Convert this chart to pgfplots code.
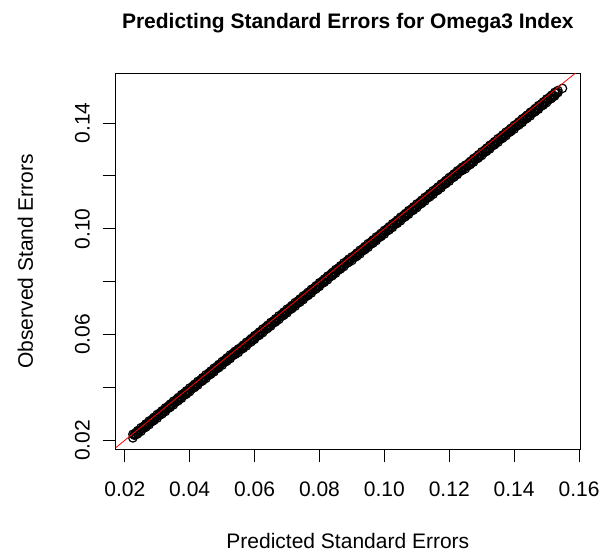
\documentclass[border=0pt]{standalone}
\usepackage{pgfplots}
\pgfplotsset{compat=1.18}
\usepackage{fontspec}
\setmainfont{Liberation Sans}
\pgfplotstableread{
x y1 y2
0.0225 0.0223 0.0209
0.0230 0.0219 0.0223
0.0235 0.0230 0.0222
0.0240 0.0225 0.0237
0.0245 0.0237 0.0235
0.0250 0.0248 0.0234
0.0255 0.0244 0.0248
0.0260 0.0255 0.0247
0.0265 0.0250 0.0262
0.0270 0.0262 0.0260
0.0275 0.0273 0.0259
0.0280 0.0269 0.0273
0.0285 0.0280 0.0272
0.0290 0.0275 0.0287
0.0295 0.0287 0.0285
0.0300 0.0298 0.0284
0.0305 0.0294 0.0298
0.0310 0.0305 0.0297
0.0315 0.0300 0.0312
0.0320 0.0312 0.0310
0.0325 0.0323 0.0309
0.0330 0.0319 0.0323
0.0335 0.0330 0.0322
0.0340 0.0325 0.0337
0.0345 0.0337 0.0335
0.0350 0.0348 0.0334
0.0355 0.0344 0.0348
0.0360 0.0355 0.0347
0.0365 0.0350 0.0362
0.0370 0.0362 0.0360
0.0375 0.0373 0.0359
0.0380 0.0369 0.0373
0.0385 0.0380 0.0372
0.0390 0.0375 0.0387
0.0395 0.0387 0.0385
0.0400 0.0398 0.0384
0.0405 0.0394 0.0398
0.0410 0.0405 0.0397
0.0415 0.0400 0.0412
0.0420 0.0412 0.0410
0.0425 0.0423 0.0409
0.0430 0.0419 0.0423
0.0435 0.0430 0.0422
0.0440 0.0425 0.0437
0.0445 0.0437 0.0435
0.0450 0.0448 0.0434
0.0455 0.0444 0.0448
0.0460 0.0455 0.0447
0.0465 0.0450 0.0462
0.0470 0.0462 0.0460
0.0475 0.0473 0.0459
0.0480 0.0469 0.0473
0.0485 0.0480 0.0472
0.0490 0.0475 0.0487
0.0495 0.0487 0.0485
0.0500 0.0498 0.0484
0.0505 0.0494 0.0498
0.0510 0.0505 0.0497
0.0515 0.0500 0.0512
0.0520 0.0512 0.0510
0.0525 0.0523 0.0509
0.0530 0.0519 0.0523
0.0535 0.0530 0.0522
0.0540 0.0525 0.0537
0.0545 0.0537 0.0535
0.0550 0.0546 0.0532
0.0555 0.0542 0.0546
0.0560 0.0553 0.0545
0.0565 0.0548 0.0560
0.0570 0.0560 0.0558
0.0575 0.0571 0.0557
0.0580 0.0567 0.0571
0.0585 0.0578 0.0570
0.0590 0.0573 0.0585
0.0595 0.0585 0.0583
0.0600 0.0596 0.0582
0.0605 0.0592 0.0596
0.0610 0.0603 0.0595
0.0615 0.0598 0.0610
0.0620 0.0610 0.0608
0.0625 0.0621 0.0607
0.0630 0.0617 0.0621
0.0635 0.0628 0.0620
0.0640 0.0623 0.0635
0.0645 0.0635 0.0633
0.0650 0.0646 0.0632
0.0655 0.0642 0.0646
0.0660 0.0653 0.0645
0.0665 0.0648 0.0660
0.0670 0.0660 0.0658
0.0675 0.0671 0.0657
0.0680 0.0667 0.0671
0.0685 0.0678 0.0670
0.0690 0.0673 0.0685
0.0695 0.0685 0.0683
0.0700 0.0696 0.0682
0.0705 0.0692 0.0696
0.0710 0.0703 0.0695
0.0715 0.0698 0.0710
0.0720 0.0710 0.0708
0.0725 0.0721 0.0707
0.0730 0.0717 0.0721
0.0735 0.0728 0.0720
0.0740 0.0723 0.0735
0.0745 0.0735 0.0733
0.0750 0.0746 0.0732
0.0755 0.0742 0.0746
0.0760 0.0753 0.0745
0.0765 0.0748 0.0760
0.0770 0.0760 0.0758
0.0775 0.0771 0.0757
0.0780 0.0767 0.0771
0.0785 0.0778 0.0770
0.0790 0.0773 0.0785
0.0795 0.0785 0.0783
0.0800 0.0796 0.0782
0.0805 0.0792 0.0796
0.0810 0.0803 0.0795
0.0815 0.0798 0.0810
0.0820 0.0810 0.0808
0.0825 0.0821 0.0807
0.0830 0.0817 0.0821
0.0835 0.0828 0.0820
0.0840 0.0823 0.0835
0.0845 0.0835 0.0833
0.0850 0.0846 0.0832
0.0855 0.0842 0.0846
0.0860 0.0853 0.0845
0.0865 0.0848 0.0860
0.0870 0.0860 0.0858
0.0875 0.0871 0.0857
0.0880 0.0867 0.0871
0.0885 0.0878 0.0870
0.0890 0.0873 0.0885
0.0895 0.0885 0.0883
0.0900 0.0894 0.0880
0.0905 0.0890 0.0894
0.0910 0.0901 0.0893
0.0915 0.0896 0.0908
0.0920 0.0908 0.0906
0.0925 0.0919 0.0905
0.0930 0.0915 0.0919
0.0935 0.0926 0.0918
0.0940 0.0921 0.0933
0.0945 0.0933 0.0931
0.0950 0.0944 0.0930
0.0955 0.0940 0.0944
0.0960 0.0951 0.0943
0.0965 0.0946 0.0958
0.0970 0.0958 0.0956
0.0975 0.0969 0.0955
0.0980 0.0965 0.0969
0.0985 0.0976 0.0968
0.0990 0.0971 0.0983
0.0995 0.0983 0.0981
0.1000 0.0994 0.0980
0.1005 0.0990 0.0994
0.1010 0.1001 0.0993
0.1015 0.0996 0.1008
0.1020 0.1008 0.1006
0.1025 0.1019 0.1005
0.1030 0.1015 0.1019
0.1035 0.1026 0.1018
0.1040 0.1021 0.1033
0.1045 0.1033 0.1031
0.1050 0.1044 0.1030
0.1055 0.1040 0.1044
0.1060 0.1051 0.1043
0.1065 0.1046 0.1058
0.1070 0.1058 0.1056
0.1075 0.1069 0.1055
0.1080 0.1065 0.1069
0.1085 0.1076 0.1068
0.1090 0.1071 0.1083
0.1095 0.1083 0.1081
0.1100 0.1094 0.1080
0.1105 0.1090 0.1094
0.1110 0.1101 0.1093
0.1115 0.1096 0.1108
0.1120 0.1108 0.1106
0.1125 0.1119 0.1105
0.1130 0.1115 0.1119
0.1135 0.1126 0.1118
0.1140 0.1121 0.1133
0.1145 0.1133 0.1131
0.1150 0.1144 0.1130
0.1155 0.1140 0.1144
0.1160 0.1151 0.1143
0.1165 0.1146 0.1158
0.1170 0.1158 0.1156
0.1175 0.1169 0.1155
0.1180 0.1165 0.1169
0.1185 0.1176 0.1168
0.1190 0.1171 0.1183
0.1195 0.1183 0.1181
0.1200 0.1194 0.1180
0.1205 0.1190 0.1194
0.1210 0.1201 0.1193
0.1215 0.1196 0.1208
0.1220 0.1208 0.1206
0.1225 0.1219 0.1205
0.1230 0.1215 0.1219
0.1235 0.1226 0.1218
0.1240 0.1221 0.1233
0.1245 0.1233 0.1231
0.1250 0.1241 0.1227
0.1255 0.1237 0.1241
0.1260 0.1248 0.1240
0.1265 0.1243 0.1255
0.1270 0.1255 0.1253
0.1275 0.1266 0.1252
0.1280 0.1262 0.1266
0.1285 0.1273 0.1265
0.1290 0.1268 0.1280
0.1295 0.1280 0.1278
0.1300 0.1291 0.1277
0.1305 0.1287 0.1291
0.1310 0.1298 0.1290
0.1315 0.1293 0.1305
0.1320 0.1305 0.1303
0.1325 0.1316 0.1302
0.1330 0.1312 0.1316
0.1335 0.1323 0.1315
0.1340 0.1318 0.1330
0.1345 0.1330 0.1328
0.1350 0.1341 0.1327
0.1355 0.1337 0.1341
0.1360 0.1348 0.1340
0.1365 0.1343 0.1355
0.1370 0.1355 0.1353
0.1375 0.1366 0.1352
0.1380 0.1362 0.1366
0.1385 0.1373 0.1365
0.1390 0.1368 0.1380
0.1395 0.1380 0.1378
0.1400 0.1391 0.1377
0.1405 0.1387 0.1391
0.1410 0.1398 0.1390
0.1415 0.1393 0.1405
0.1420 0.1405 0.1403
0.1425 0.1416 0.1402
0.1430 0.1412 0.1416
0.1435 0.1423 0.1415
0.1440 0.1418 0.1430
0.1445 0.1430 0.1428
0.1450 0.1441 0.1427
0.1455 0.1437 0.1441
0.1460 0.1448 0.1440
0.1465 0.1443 0.1455
0.1470 0.1455 0.1453
0.1475 0.1466 0.1452
0.1480 0.1462 0.1466
0.1485 0.1473 0.1465
0.1490 0.1468 0.1480
0.1495 0.1480 0.1478
0.1500 0.1491 0.1477
0.1505 0.1487 0.1491
0.1510 0.1498 0.1490
0.1515 0.1493 0.1505
0.1520 0.1505 0.1503
0.1525 0.1516 0.1502
0.1530 0.1512 0.1516
0.1535 0.1523 0.1515
0.1549 0.1531 nan
}\pts
\begin{document}
\begin{tikzpicture}
\begin{axis}[
  scale only axis,
  width=464.3pt, height=376pt,
  xmin=0.0172, xmax=0.1603, ymin=0.0166, ymax=0.1588,
  axis line style={line width=0.9pt, black},
  tick style={line width=0.9pt, black},
  major tick length=13pt,
  tick align=outside,
  xtick pos=bottom, ytick pos=left,
  xtick={0.02,0.04,0.06,0.08,0.10,0.12,0.14,0.16},
  xticklabels={0.02,0.04,0.06,0.08,0.10,0.12,0.14,0.16},
  ytick={0.02,0.04,0.06,0.08,0.10,0.12,0.14},
  yticklabels={0.02,,0.06,,0.10,,0.14},
  tick label style={font=\fontsize{21}{25}\selectfont, text=black},
  xticklabel style={anchor=base, yshift=-34.4pt},
  yticklabel style={xshift=-13pt, rotate=90, anchor=base},
  unbounded coords=discard,
  clip=true,
  clip mode=individual,
]
\addplot[only marks, mark=o, mark size=4.2pt, mark options={line width=1.2pt, black}] table[x=x, y=y1] {\pts};
\addplot[only marks, mark=o, mark size=4.2pt, mark options={line width=1.2pt, black}] table[x=x, y=y2] {\pts};
\addplot[red, line width=0.8pt] coordinates {(0.0150,0.0150) (0.1650,0.1650)};
\end{axis}
\node[anchor=base, font=\bfseries\fontsize{21}{25}\selectfont] at (232.15pt,420.3pt) {Predicting Standard Errors for Omega3 Index};
\node[anchor=base, font=\fontsize{21}{25}\selectfont] at (232.15pt,-99pt) {Predicted Standard Errors};
\node[anchor=base, rotate=90, font=\fontsize{21}{25}\selectfont] at (-82.7pt,188pt) {Observed Stand Errors};
\pgfresetboundingbox
\path[use as bounding box] (-115.7pt,-102.7pt) rectangle (486.3pt,449.3pt);
\end{tikzpicture}
\end{document}
